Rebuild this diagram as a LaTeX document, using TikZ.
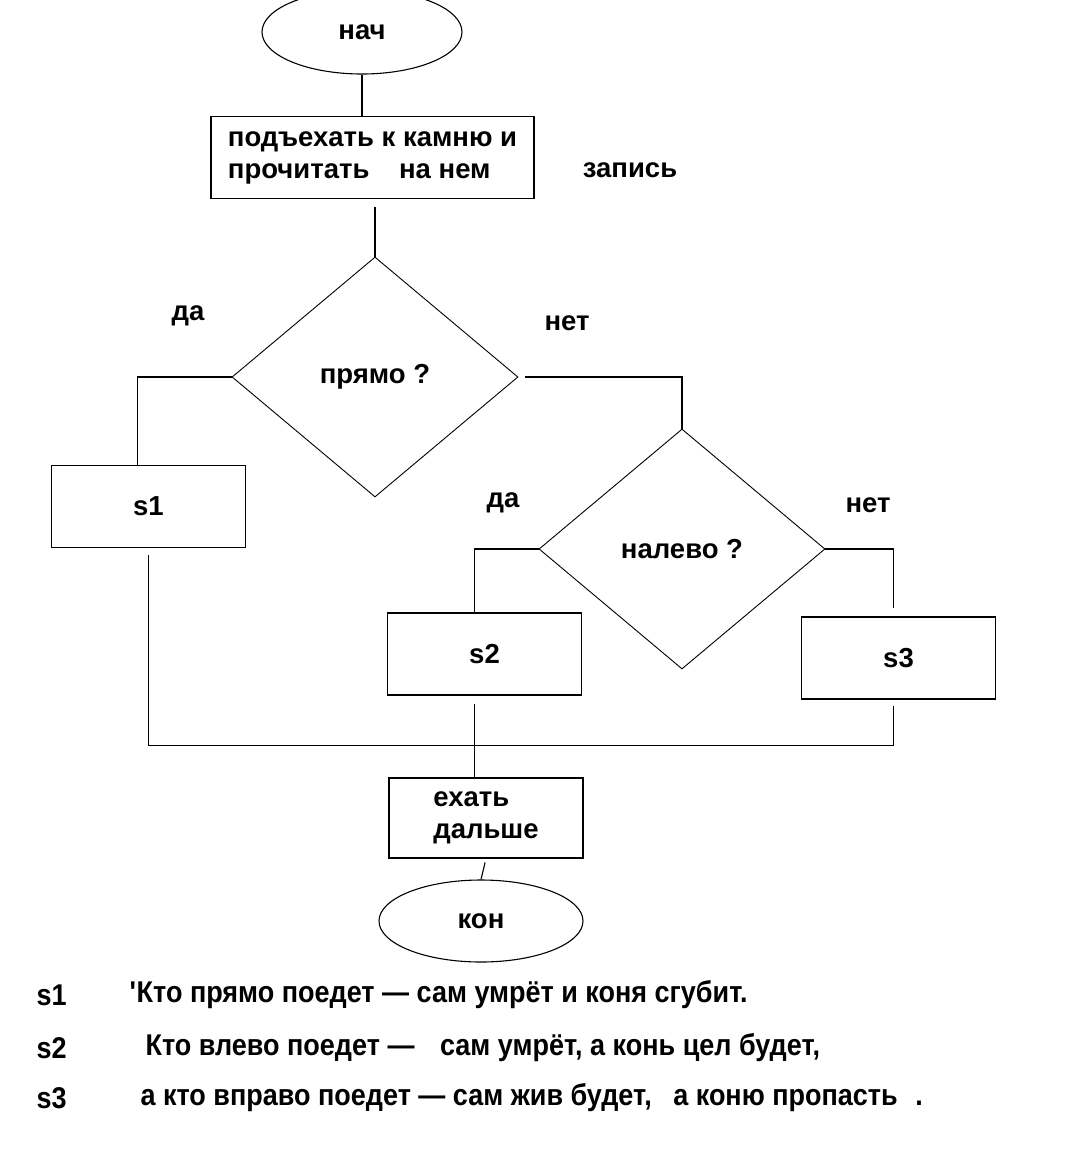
\documentclass[tikz,border=0pt]{standalone}
\usepackage{fontspec}
\setmainfont{Liberation Sans}
\newfontfamily\narrowfont{Liberation Sans}[FakeStretch=0.9]
\usepackage{tikz}
\usetikzlibrary{shapes.geometric}

\begin{document}
\begin{tikzpicture}[x=1pt, y=-1pt, line width=1.1pt,
		txt/.style={font=\fontsize{27.5}{32}\selectfont\bfseries, inner sep=0pt},
		blok/.style={txt, draw, rectangle, minimum width=194pt, minimum height=82pt},
		oval/.style={txt, draw, ellipse, minimum width=200pt, minimum height=84pt},
		romb/.style={txt, draw, diamond, minimum width=286pt, minimum height=240pt, line width=0.9pt},
		legend/.style={font=\fontsize{30}{32}\narrowfont\bfseries, anchor=west, inner sep=0pt}]
		%%%%% START %%%%%
		
		\useasboundingbox (0, 0) rectangle (1069, 1149);
		
		\node[oval] (nach) at (362, 32) {нач};
		\node[blok, minimum width=323pt, align=left] (box1) at (372.5, 157.5) {подъехать к камню и\\прочитать\hspace{22pt} на нем};
		\node[txt] (zap) at (630, 170) {запись};
		
		\node[romb] (romb1) at (375, 377) {прямо ?};
		\node[txt] (da1) at (188, 316) {да};
		\node[txt] (net1) at (567, 323) {нет};
		\node[blok] (s1) at (148.5, 506.5) {s1};
		
		\node[romb] (romb2) at (682, 549) {налево ?};
		\node[txt] (da2) at (503, 503) {да};
		\node[txt] (net2) at (868, 505) {нет};
		\node[blok] (s2) at (484.5, 654) {s2};
		\node[blok] (s3) at (898.5, 658) {s3};
		
		\node[blok, minimum height=80pt, align=left] (go) at (486, 818) {ехать\\дальше};
		\node[oval, minimum width=204pt, minimum height=82pt] (kon) at (481, 921) {кон};
		\coordinate (m) at ([xshift=-12pt, yshift=32pt]go.north);
		
		\draw (nach.south) -- (nach.south |- box1.north);
		\draw[shorten <=8pt] (box1.south -| romb1.north) -- (romb1.north);
		\draw (romb1.west) -| ([xshift=-11pt]s1.north);
		\draw[shorten <=7pt] (romb1.east) -| (romb2.north);
		\draw (romb2.west) -| ([xshift=-10pt]s2.north);
		\draw[shorten >=8pt] (romb2.east) -| ([xshift=-5pt]s3.north);
		\draw[shorten <=7pt, shorten >=6pt] (s1.south) |- (m) -| ([xshift=-5pt]s3.south);
		\draw[shorten <=8pt] ([xshift=-10pt]s2.south) -- ([xshift=-10pt]s2.south |- go.north);
		\draw[shorten <=4pt] (go.south) -- (kon.north);
		
		\node[legend] (k1) at (36, 995) {s1};
		\node[legend] (t1) at (129, 995) {\textquotesingle Кто прямо поедет — сам умрёт и коня сгубит.};
		\node[legend] (k2) at (36, 1048) {s2};
		\node[legend] (t2) at (145, 1048) {Кто влево поедет —\hspace{18pt} сам умрёт, а конь цел будет,};
		\node[legend] (k3) at (36, 1098) {s3};
		\node[legend] (t3) at (140, 1098) {а кто вправо поедет — сам жив будет,\hspace{14pt} а коню пропасть\hspace{10pt} .};
		
		%%%%% END %%%%%
	\end{tikzpicture}
\end{document}
